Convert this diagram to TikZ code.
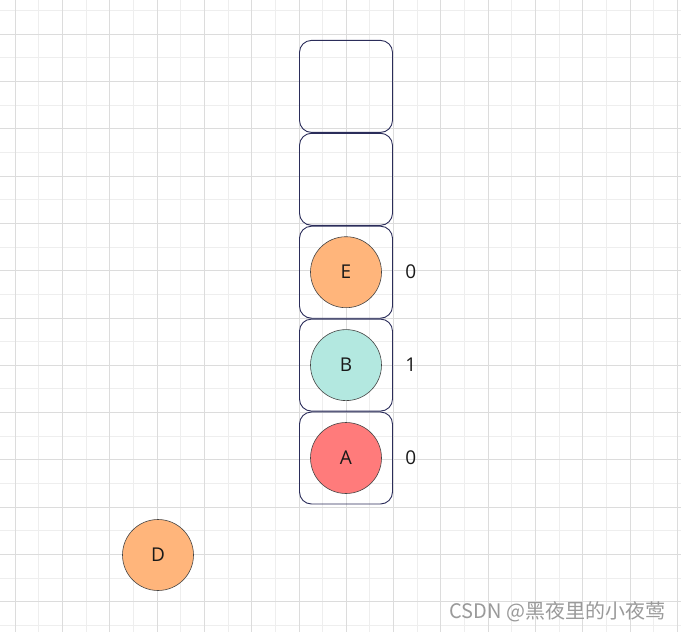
\documentclass[tikz,border=0pt]{standalone}
\usepackage{fontspec}
\setmainfont{Open Sans}
\newfontfamily\cjk{Noto Sans CJK SC}
\usetikzlibrary{positioning}

\definecolor{gridmajor}{HTML}{DCDCDC}
\definecolor{gridminor}{HTML}{EEEEEE}
\definecolor{boxline}{HTML}{2B2D5A}
\definecolor{ballline}{HTML}{444444}
\definecolor{peach}{HTML}{FFB57B}
\definecolor{mint}{HTML}{B3E8E0}
\definecolor{salmon}{HTML}{FF7B7B}
\definecolor{creditgray}{HTML}{9A9A9A}

\begin{document}
\begin{tikzpicture}[
                x=1pt, y=-1pt,
                node distance=0pt,
                cell/.style={
                    rectangle,
                    draw=boxline,
                    line width=0.9pt,
                    rounded corners=12pt,
                    minimum width=93pt,
                    minimum height=92pt
                },
                ball/.style={
                    circle,
                    draw=ballline,
                    line width=0.6pt,
                    minimum size=71pt,
                    inner sep=0pt,
                    text=black!90,
                    font=\fontsize{19}{19}\selectfont
                },
                count/.style={
                    text=black!90,
                    font=\fontsize{19}{19}\selectfont
                }]

                % background and grid
                \fill [white] (0,0) rectangle (681,632);
                \useasboundingbox (0,0) rectangle (681,632);
                \foreach \x in {-8.65,15,...,690} {
                    \draw [gridminor, line width=0.6pt] (\x,0) -- (\x,632);
                }
                \foreach \y in {10.35,34,...,640} {
                    \draw [gridminor, line width=0.6pt] (0,\y) -- (681,\y);
                }
                \foreach \x in {15,62.3,...,690} {
                    \draw [gridmajor, line width=0.6pt] (\x,0) -- (\x,632);
                }
                \foreach \y in {34,81.3,...,640} {
                    \draw [gridmajor, line width=0.6pt] (0,\y) -- (681,\y);
                }

                % stack
                \node [cell] (cellA) at (346,458) {};
                \node [cell, above=of cellA] (cellB) {};
                \node [cell, above=of cellB] (cellE) {};
                \node [cell, above=of cellE] (cellfree1) {};
                \node [cell, above=of cellfree1] (cellfree2) {};

                \node [ball, fill=peach] (ballE) at (cellE) {E};
                \node [ball, fill=mint] (ballB) at (cellB) {B};
                \node [ball, fill=salmon] (ballA) at (cellA) {A};

                \node [count, right=9pt of cellE] (countE) {0};
                \node [count, right=9pt of cellB] (countB) {1};
                \node [count, right=9pt of cellA] (countA) {0};

                \node [ball, fill=peach] (ballD) at (158,555) {D};

                \node [creditgray, anchor=east, font=\cjk\fontsize{20}{20}\selectfont] (credit) at (669,612) {CSDN @黑夜里的小夜莺};

\end{tikzpicture}
\end{document}
